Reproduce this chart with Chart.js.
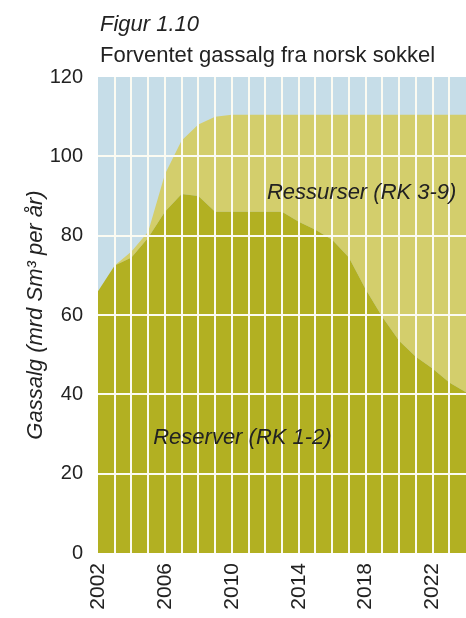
<!DOCTYPE html>
<html>
<head>
<meta charset="utf-8">
<script src="https://cdn.jsdelivr.net/npm/chart.js@4"></script>
<style>
  html, body { margin: 0; padding: 0; background: #fff; }
  #wrap { position: relative; width: 466px; height: 618px; overflow: hidden; }
  .head { position: absolute; left: 100px; margin: 0; color: #222; font-family: 'Liberation Sans', Arial, sans-serif; white-space: nowrap; }
  #fig { top: 13px; font-size: 22px; line-height: 22px; font-style: italic; }
  #title { top: 44px; font-size: 22px; line-height: 22px; }
</style>
</head>
<body>
<div id="wrap">
  <canvas id="gassChart"></canvas>
  <div class="head" id="fig">Figur 1.10</div>
  <div class="head" id="title">Forventet gassalg fra norsk sokkel</div>
</div>
<script>
const years = [2002, 2003, 2004, 2005, 2006, 2007, 2008, 2009, 2010, 2011, 2012, 2013,
  2014, 2015, 2016, 2017, 2018, 2019, 2020, 2021, 2022, 2023, 2024];

// mrd Sm3 per år
const reserver = [66, 72.5, 74.5, 79.5, 86, 90.5, 90, 86, 86, 86, 86, 86,
  83.5, 81.5, 79, 74.5, 66.5, 59.5, 53.5, 49.5, 46.5, 43, 40.5];
const ressurser = [0, 0, 1.5, 1.5, 9.5, 13.5, 18, 24, 24.5, 24.5, 24.5, 24.5,
  27, 29, 31.5, 36, 44, 51, 57, 61, 64, 67.5, 70];

const yTicks = [0, 20, 40, 60, 80, 100, 120];

const textColour = '#222';
const gridColour = '#fbfbf2';
const none = 'rgba(0,0,0,0)';
const fontFamily = "'Liberation Sans', Arial, sans-serif";

const plotBackground = {
  id: 'plotBackground',
  beforeDraw(chart) {
    const {ctx, chartArea: a} = chart;
    ctx.save();
    ctx.fillStyle = '#c6dde8';
    ctx.fillRect(a.left, a.top, a.right - a.left, a.bottom - a.top);
    ctx.restore();
  }
};

// names written inside the two areas
const areaNames = {
  id: 'areaNames',
  afterDraw(chart) {
    const {ctx, scales: {x, y}} = chart;
    ctx.save();
    ctx.font = 'italic 22px ' + fontFamily;
    ctx.fillStyle = textColour;
    ctx.textBaseline = 'middle';
    ctx.textAlign = 'left';
    ctx.fillText('Ressurser (RK 3-9)', x.getPixelForValue(10.1), y.getPixelForValue(90.7));
    ctx.fillText('Reserver (RK 1-2)', x.getPixelForValue(3.3), y.getPixelForValue(29));
    ctx.restore();
  }
};

new Chart(document.getElementById('gassChart'), {
  type: 'line',
  data: {
    labels: years,
    datasets: [
      {
        label: 'Reserver (RK 1-2)',
        data: reserver,
        backgroundColor: '#b2b022',
        borderWidth: 0,
        pointRadius: 0,
        fill: 'origin'
      },
      {
        label: 'Ressurser (RK 3-9)',
        data: ressurser,
        backgroundColor: '#d3ce6c',
        borderWidth: 0,
        pointRadius: 0,
        fill: '-1'
      }
    ]
  },
  options: {
    responsive: true,
    maintainAspectRatio: false,
    animation: false,
    layout: { padding: { top: 77, right: 0, bottom: 0, left: 0 } },
    plugins: {
      legend: { display: false },
      tooltip: { enabled: false }
    },
    scales: {
      x: {
        grid: {
          z: 1,
          color: c => (c.index === 0 || c.index === years.length - 1 ? none : gridColour),
          lineWidth: 2,
          drawTicks: false
        },
        border: { display: false },
        ticks: {
          autoSkip: false,
          minRotation: 90,
          maxRotation: 90,
          padding: 10,
          color: textColour,
          font: { family: fontFamily, size: 21 },
          callback(v) {
            const yr = Number(this.getLabelForValue(v));
            return (yr - 2002) % 4 === 0 ? String(yr) : '';
          }
        },
        afterFit(scale) {
          scale.height = 65;
          scale.paddingLeft = 0;
          scale.paddingRight = 0;
        }
      },
      y: {
        stacked: true,
        min: 0,
        max: 120,
        afterBuildTicks(scale) {
          scale.ticks = yTicks.map(v => ({value: v}));
        },
        grid: {
          z: 1,
          color: c => (c.tick.value === 0 || c.tick.value === 120 ? none : gridColour),
          lineWidth: 2,
          drawTicks: false
        },
        border: { display: false },
        ticks: {
          padding: 15,
          color: textColour,
          font: { family: fontFamily, size: 20 }
        },
        title: {
          display: true,
          text: 'Gassalg (mrd Sm³ per år)',
          color: textColour,
          font: { family: fontFamily, size: 22, style: 'italic', lineHeight: 1.2 },
          padding: { top: 23, bottom: 0 }
        },
        afterFit(scale) {
          scale.width = 98;
        }
      }
    }
  },
  plugins: [plotBackground, areaNames]
});
</script>
</body>
</html>
